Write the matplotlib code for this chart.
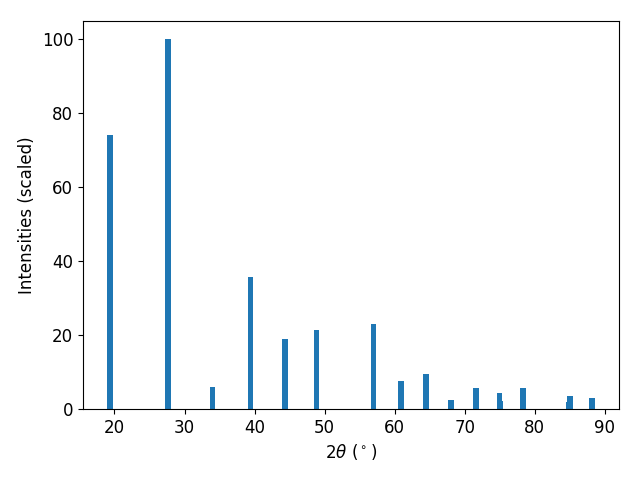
import matplotlib
matplotlib.use("Agg")
import matplotlib.pyplot as plt

two_theta = [19.39, 27.64, 34.0, 39.43, 44.36, 48.86, 57.0, 60.86, 64.5, 68.07,
             71.57, 74.95, 75.1, 78.29, 84.83, 85.0, 88.14]
intensity = [74.2, 100.0, 5.96, 35.8, 19.0, 21.4, 23.0, 7.6, 9.5, 2.44,
             5.7, 4.3, 2.2, 5.7, 1.9, 3.5, 3.0]

plt.rcParams['font.size'] = 12
fig, ax = plt.subplots(figsize=(6.4, 4.8), dpi=100)
ax.bar(two_theta, intensity, width=0.8, color='#1f77b4')
ax.set_xlabel(r"$2\theta$ ($^\circ$)")
ax.set_ylabel("Intensities (scaled)")
fig.subplots_adjust(left=83/640, right=619/640, top=1 - 21/480, bottom=1 - 409/480)
fig.savefig("out.png", dpi=100)
